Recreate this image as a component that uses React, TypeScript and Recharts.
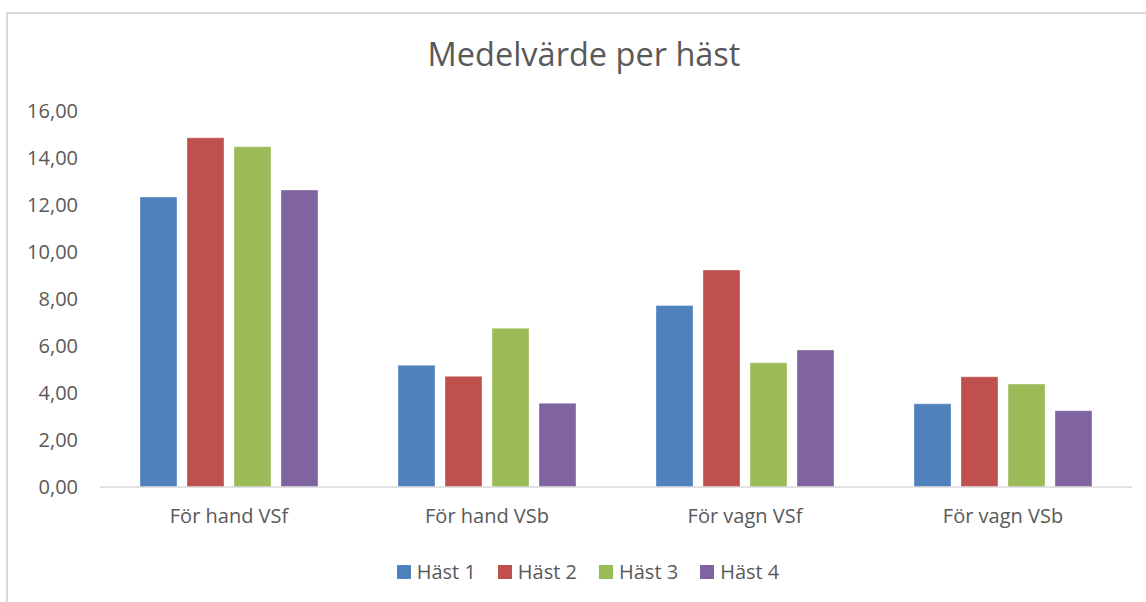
import { Bar, BarChart, XAxis, YAxis } from "recharts";

const categories = ["För hand VSf", "För hand VSb", "För vagn VSf", "För vagn VSb"];
const hast1 = [12.34, 5.18, 7.72, 3.54];
const hast2 = [14.86, 4.71, 9.23, 4.69];
const hast3 = [14.48, 6.76, 5.29, 4.38];
const hast4 = [12.64, 3.56, 5.83, 3.25];
const yTicks = [0, 2, 4, 6, 8, 10, 12, 14, 16];

const series = [
  { key: "h1", name: "Häst 1", color: "#4F81BD", values: hast1 },
  { key: "h2", name: "Häst 2", color: "#C0504D", values: hast2 },
  { key: "h3", name: "Häst 3", color: "#9BBB59", values: hast3 },
  { key: "h4", name: "Häst 4", color: "#8064A2", values: hast4 },
];

const data = categories.map((cat, i) => {
  const row: Record<string, string | number> = { cat };
  series.forEach((s) => {
    row[s.key] = s.values[i];
  });
  return row;
});

const FONT = "'Open Sans', 'Noto Sans', sans-serif";
const TEXT = "#595959";

function fmt(v: number) {
  return v.toFixed(2).replace(".", ",");
}

export default function App() {
  return (
    <div style={{ position: "absolute", left: 0, top: 0, width: 1146, height: 602, overflow: "hidden", background: "#fff" }}>
      <div
        style={{
          position: "absolute",
          left: 6,
          top: 12,
          width: 1160,
          height: 620,
          border: "2px solid #d9d9d9",
          boxSizing: "border-box",
        }}
      />
      <div
        style={{
          position: "absolute",
          left: 284,
          width: 600,
          top: 34,
          textAlign: "center",
          fontFamily: FONT,
          fontSize: 32.5,
          color: TEXT,
          lineHeight: "40px",
        }}
      >
        Medelvärde per häst
      </div>
      <div style={{ position: "absolute", left: 0, top: 0 }}>
        <BarChart
          width={1146}
          height={602}
          data={data}
          margin={{ top: 111, right: 14, bottom: 60, left: 0 }}
          barCategoryGap={40}
          barGap={10}
        >
          <XAxis
            dataKey="cat"
            axisLine={{ stroke: "#d9d9d9", strokeWidth: 1.5 }}
            tickLine={false}
            tickSize={0}
            tickMargin={22}
            height={55}
            tick={{ fontFamily: FONT, fontSize: 20, fill: TEXT }}
          />
          <YAxis
            width={100}
            domain={[0, 16]}
            ticks={yTicks}
            axisLine={false}
            tickLine={false}
            tickSize={0}
            tickMargin={22}
            tickFormatter={fmt}
            tick={{ fontFamily: FONT, fontSize: 20, fill: TEXT }}
          />
          {series.map((s) => (
            <Bar
              key={s.key}
              dataKey={s.key}
              name={s.name}
              fill={s.color}
              stroke="#ffffff"
              strokeOpacity={0.35}
              strokeWidth={1}
              barSize={37}
              isAnimationActive={false}
            />
          ))}
        </BarChart>
      </div>
      {/* legend */}
      <div
        style={{
          position: "absolute",
          top: 558,
          left: 288,
          width: 600,
          display: "flex",
          justifyContent: "center",
          gap: 22,
          fontFamily: FONT,
          fontSize: 20,
          color: TEXT,
          lineHeight: "28px",
        }}
      >
        {series.map((s) => (
          <div key={s.key} style={{ display: "flex", alignItems: "center" }}>
            <span style={{ width: 14, height: 14, background: s.color, display: "inline-block", marginRight: 6 }} />
            <span>{s.name}</span>
          </div>
        ))}
      </div>
    </div>
  );
}
